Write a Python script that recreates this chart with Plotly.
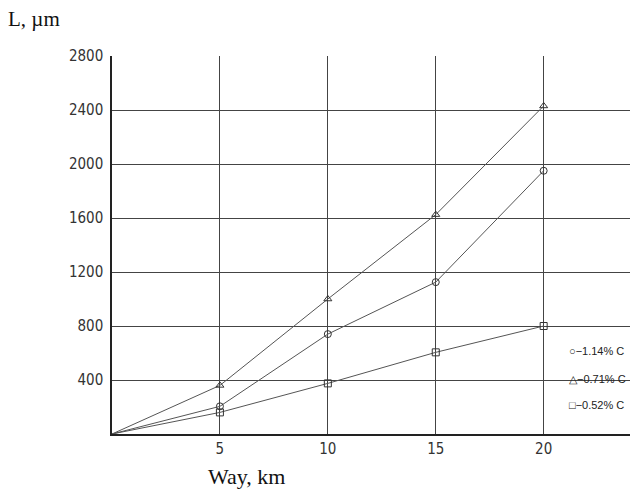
import plotly.graph_objects as go

way = [0, 5, 10, 15, 20]
c114 = [0, 205, 740, 1125, 1950]
c071 = [0, 360, 1000, 1625, 2430]
c052 = [0, 160, 375, 605, 800]
names = ["\u25cb\u22121.14% C", "\u25b3\u22120.71% C", "\u25a1\u22120.52% C"]
symbols = ["circle-open", "triangle-up-open", "square-open"]
xticks = [5, 10, 15, 20]
yticks = [400, 800, 1200, 1600, 2000, 2400, 2800]

fig = go.Figure()
for i, (vals, sym) in enumerate(zip([c114, c071, c052], symbols)):
    fig.add_trace(go.Scatter(
        x=way, y=vals, mode="lines", line=dict(color="#555", width=1),
        showlegend=False, hoverinfo="skip"))
    fig.add_trace(go.Scatter(
        x=way[1:], y=vals[1:], mode="markers", name=names[i],
        marker=dict(symbol=sym, size=7, color="#333", line=dict(width=1)),
        showlegend=False))

legend_ann = [
    dict(text=names[i], xref="paper", yref="paper", x=(567 - 112) / 518,
         y=(434 - yy) / 378, xanchor="left", yanchor="middle", showarrow=False,
         font=dict(family="Liberation Sans", size=11, color="#222"))
    for i, yy in enumerate([351, 379, 405])
]

fig.update_layout(
    width=640, height=492,
    margin=dict(l=112, r=10, t=56, b=58, autoexpand=False),
    plot_bgcolor="white", paper_bgcolor="white",
    xaxis=dict(range=[0, 24], tickvals=xticks, showgrid=True, gridcolor="#444",
               gridwidth=1, showline=True, linecolor="#222", linewidth=1.5,
               zeroline=False, ticks="",
               tickfont=dict(family="DejaVu Sans Condensed", size=15, color="#333")),
    yaxis=dict(range=[0, 2800], tickvals=yticks, showgrid=True, gridcolor="#444",
               gridwidth=1, showline=True, linecolor="#222", linewidth=1.5,
               zeroline=False, ticks="", ticklabelstandoff=4,
               tickfont=dict(family="DejaVu Sans Condensed", size=15, color="#333")),
    showlegend=False,
    annotations=[
        dict(text="L, \u00b5m", xref="paper", yref="paper", x=(6 - 112) / 518,
             y=(434 - 19) / 378, xanchor="left", yanchor="middle", showarrow=False,
             font=dict(family="Liberation Serif", size=21, color="#111")),
        dict(text="Way, km", xref="paper", yref="paper", x=(206 - 112) / 518,
             y=(434 - 476) / 378, xanchor="left", yanchor="middle", showarrow=False,
             font=dict(family="Liberation Serif", size=22, color="#111")),
    ] + legend_ann,
)

fig.write_html("out.html")
